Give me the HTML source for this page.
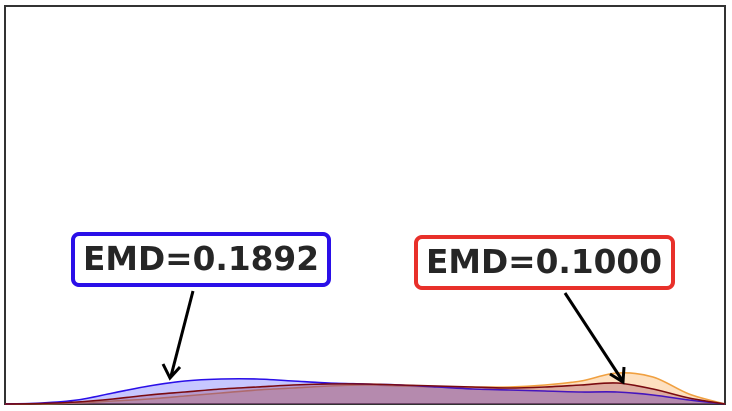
<!DOCTYPE html>
<html><head><meta charset="utf-8"><style>
body{margin:0;background:#fff}
svg{display:block;font-family:"DejaVu Sans","Liberation Sans",sans-serif}
</style></head><body>
<svg width="732" height="411">
<rect x="5" y="6" width="720" height="398" fill="#fff" stroke="#333" stroke-width="2"/>
<g id="series"></g>
<g>
<rect x="73" y="234" width="256" height="51" rx="6" fill="#fff" stroke="#2a0fe8" stroke-width="4"/>
<text x="201" y="270" text-anchor="middle" font-size="33" font-weight="bold" fill="#262626" textLength="236" lengthAdjust="spacingAndGlyphs">EMD=0.1892</text>
<line x1="193" y1="291" x2="171" y2="376" stroke="#000" stroke-width="3"/>
<path d="M163 364 L170 378 L180 367" fill="none" stroke="#000" stroke-width="3"/>
</g>
<g>
<rect x="416" y="237" width="257" height="51" rx="6" fill="#fff" stroke="#e8302a" stroke-width="4"/>
<text x="544" y="273" text-anchor="middle" font-size="33" font-weight="bold" fill="#262626" textLength="236" lengthAdjust="spacingAndGlyphs">EMD=0.1000</text>
<line x1="565" y1="293" x2="622" y2="380" stroke="#000" stroke-width="3"/>
<path d="M610 374 L623 382 L624 367" fill="none" stroke="#000" stroke-width="3"/>
</g>
</svg>
<script>
const xs=[0,.05,.1,.15,.2,.25,.3,.35,.4,.45,.5,.55,.6,.65,.7,.75,.8,.85,.9,.95,1];
const orangeVals=[0,.3,1,3,5,8,11,14,16,18,19,18,17,17,17,19,23,31,27,10,0];
const maroonVals=[0,.5,2,5,9,12,15,17,19,20,20,19,18,17,16,17,19,21,15,6,0];
const blueVals=[0,1,4,11,18,23,25,25,23,21,20,19,17,15,14,13,12,12,9,4,0];
const X=f=>5+720*f, Y=v=>404-v;
function path(vals){
  const p=xs.map((f,i)=>[X(f),Y(vals[i])]);
  let d=`M${p[0][0]},${p[0][1]}`;
  for(let i=0;i<p.length-1;i++){
    const p0=p[Math.max(0,i-1)],p1=p[i],p2=p[i+1],p3=p[Math.min(p.length-1,i+2)];
    d+=` C${p1[0]+(p2[0]-p0[0])/6},${p1[1]+(p2[1]-p0[1])/6} ${p2[0]-(p3[0]-p1[0])/6},${p2[1]-(p3[1]-p1[1])/6} ${p2[0]},${p2[1]}`;
  }
  return d;
}
const g=document.getElementById('series');
const ns='http://www.w3.org/2000/svg';
[[orangeVals,'rgba(248,160,60,0.32)','#f0a040','orange'],[blueVals,'rgba(70,70,255,0.3)','#2a0fe8','blue'],[maroonVals,'rgba(140,40,80,0.28)','#7a0a10','maroon']].forEach(([v,fill,st,n])=>{
  const a=document.createElementNS(ns,'path');
  a.setAttribute('d',path(v)+` L${X(1)},${Y(0)} L${X(0)},${Y(0)} Z`);
  a.setAttribute('fill',fill);
  
  
  g.appendChild(a);
  const l=document.createElementNS(ns,'path');
  l.setAttribute('d',path(v));
  l.setAttribute('fill','none');l.setAttribute('stroke',st);l.setAttribute('stroke-width','1.6');
  
  
  g.appendChild(l);
});
</script>
</body></html>
